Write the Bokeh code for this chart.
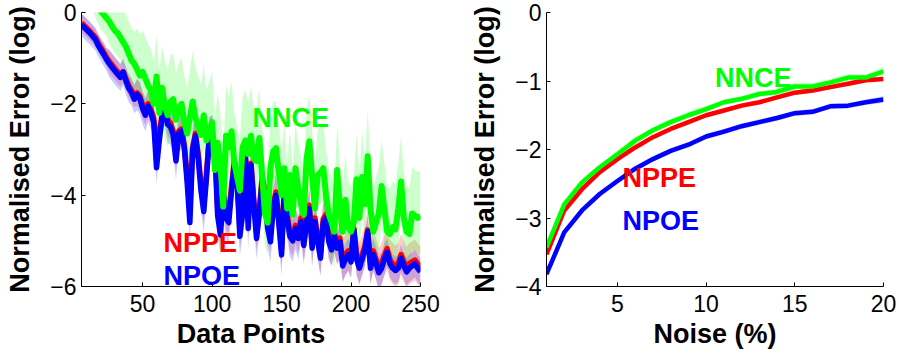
from bokeh.plotting import figure
from bokeh.layouts import row
from bokeh.models import Label, FixedTicker
from bokeh.embed import file_html
from bokeh.resources import INLINE

# ---------------- Left panel: error vs number of data points ----------------
dp_start = 6
dp_step = 2
npoe_dp = [
    -0.27, -0.33, -0.39, -0.45, -0.52, -0.59, -0.72, -0.82, -0.92, -1.03,
    -1.12, -1.2, -1.28, -1.35, -1.42, -1.3, -1.5, -1.66, -1.75, -1.9,
    -1.8, -1.88, -2.1, -2.25, -2.05, -2.2, -2.4, -3.4, -2.8, -2.3,
    -2.05, -2.45, -2.5, -2.68, -3.25, -2.65, -2.6, -2.97, -3.7, -4.6,
    -3.0, -2.7, -3.2, -3.9, -4.36, -3.6, -2.75, -2.7, -3.0, -4.45,
    -4.87, -4.0, -4.5, -4.6, -3.9, -3.33, -3.7, -4.9, -4.4, -3.2,
    -4.73, -3.34, -4.2, -4.95, -4.4, -3.7, -4.0, -4.73, -5.02, -4.3,
    -4.0, -4.6, -5.31, -3.9, -4.5, -4.9, -5.0, -4.73, -4.95, -4.58,
    -5.1, -4.6, -4.3, -5.16, -4.58, -5.0, -5.38, -4.6, -4.5, -5.02,
    -5.2, -4.9, -5.16, -5.02, -5.55, -5.4, -5.3, -5.46, -4.75, -5.4,
    -5.6, -5.4, -5.2, -4.8, -5.6, -5.3, -5.5, -5.7, -5.6, -5.4,
    -5.25, -5.5, -5.6, -5.65, -5.6, -5.38, -5.55, -5.68, -5.6, -5.55,
    -5.5, -5.6, -5.68,
]
nppe_dp = [
    -0.23, -0.29, -0.35, -0.41, -0.48, -0.55, -0.67, -0.77, -0.87, -0.98,
    -1.07, -1.15, -1.23, -1.3, -1.37, -1.3, -1.45, -1.6, -1.7, -1.82,
    -1.76, -1.83, -2.02, -2.15, -2.0, -2.12, -2.3, -3.1, -2.6, -2.25,
    -2.05, -2.35, -2.42, -2.6, -3.1, -2.6, -2.55, -2.9, -3.55, -4.3,
    -2.95, -2.65, -3.1, -3.75, -4.2, -3.5, -2.7, -2.65, -2.95, -4.3,
    -4.7, -3.9, -4.35, -4.45, -3.8, -3.25, -3.6, -4.75, -4.3, -3.1,
    -4.55, -3.3, -4.1, -4.8, -4.3, -3.6, -3.9, -4.6, -4.85, -4.2,
    -3.93, -4.52, -5.2, -3.83, -4.42, -4.82, -4.92, -4.66, -4.87, -4.5,
    -5.0, -4.52, -4.22, -5.06, -4.5, -4.92, -5.28, -4.52, -4.42, -4.93,
    -5.1, -4.82, -5.07, -4.94, -5.44, -5.3, -5.22, -5.36, -4.72, -5.3,
    -5.5, -5.31, -5.12, -4.76, -5.5, -5.22, -5.41, -5.6, -5.5, -5.32,
    -5.17, -5.41, -5.5, -5.55, -5.5, -5.3, -5.46, -5.58, -5.5, -5.46,
    -5.42, -5.5, -5.58,
]
nnce_dp = [
    0.9, 0.8, 0.7, 0.55, 0.45, 0.3, 0.15, 0.02, -0.05, -0.12,
    -0.2, -0.3, -0.4, -0.45, -0.55, -0.65, -0.75, -0.9, -1.05, -1.12,
    -1.25, -1.38, -1.3, -1.45, -1.6, -1.7, -2.0, -1.4, -2.2, -1.65,
    -2.05, -2.25, -1.95, -1.9, -2.35, -2.1, -2.0, -2.4, -2.65, -2.3,
    -1.95, -2.3, -2.5, -2.68, -2.25, -2.8, -2.6, -2.4, -3.45, -2.85,
    -3.3, -4.25, -2.7, -2.95, -2.6, -3.3, -3.6, -3.9, -2.95, -2.8,
    -3.1, -2.7, -3.2, -3.25, -2.75, -3.56, -4.4, -4.6, -3.4, -3.04,
    -2.97, -3.5, -4.0, -3.41, -4.29, -3.56, -4.43, -3.41, -3.85, -4.2,
    -4.43, -3.19, -2.82, -3.6, -4.29, -3.56, -3.5, -3.41, -4.0, -4.43,
    -4.6, -4.8, -3.45, -4.3, -4.8, -4.1, -4.7, -4.8, -4.6, -3.65,
    -4.5, -3.6, -4.2, -3.15, -4.3, -4.8, -4.6, -4.4, -3.8, -4.3,
    -4.8, -4.85, -4.7, -4.75, -4.3, -3.7, -4.5, -4.8, -4.85, -4.4,
    -4.45, -4.5, -4.45,
]
# half-widths of the shaded spread, one value per block of 20 data points
block = 20
nnce_dp_up = [0.5, 0.7, 0.9, 1.0, 1.1, 1.1, 1.1, 1.0, 1.0, 1.0, 1.0, 1.0, 1.0]
nnce_dp_dn = [0.4, 0.5, 0.6, 0.7, 0.7, 0.7, 0.7, 0.7, 0.7, 0.8, 0.8, 0.8, 0.8]
nppe_dp_sd = [0.2, 0.25, 0.3, 0.35, 0.4, 0.4, 0.4, 0.4, 0.45, 0.45, 0.45, 0.45, 0.45]
npoe_dp_sd = [0.25, 0.3, 0.35, 0.4, 0.45, 0.45, 0.45, 0.45, 0.4, 0.35, 0.35, 0.3, 0.3]

dp_xticks = [50, 100, 150, 200, 250]
dp_yticks = [-6, -4, -2, 0]

# ---------------- Right panel: error vs noise ----------------
noise_pct = [1, 2, 3, 4, 5, 6, 7, 8, 9, 10, 11, 12, 13, 14, 15, 16, 17, 18, 19, 20]
nnce_noise = [-3.43, -2.80, -2.48, -2.26, -2.07, -1.87, -1.72, -1.60, -1.50, -1.41,
              -1.31, -1.26, -1.19, -1.16, -1.08, -1.08, -1.02, -0.95, -0.95, -0.86]
nppe_noise = [-3.53, -2.89, -2.58, -2.33, -2.14, -1.97, -1.82, -1.70, -1.60, -1.50,
              -1.43, -1.36, -1.31, -1.24, -1.17, -1.14, -1.09, -1.04, -0.99, -0.97]
npoe_noise = [-3.82, -3.21, -2.89, -2.65, -2.46, -2.28, -2.14, -2.02, -1.93, -1.81,
              -1.74, -1.66, -1.60, -1.54, -1.47, -1.45, -1.37, -1.36, -1.31, -1.27]
nnce_noise_sd = [0.05, 0.04, 0.04, 0.04, 0.05, 0.06, 0.05, 0.05, 0.05, 0.05,
                 0.04, 0.04, 0.04, 0.05, 0.06, 0.05, 0.05, 0.05, 0.05, 0.07]
nppe_noise_sd = [0.03, 0.03, 0.03, 0.03, 0.03, 0.03, 0.03, 0.03, 0.03, 0.03,
                 0.03, 0.03, 0.03, 0.03, 0.03, 0.03, 0.03, 0.03, 0.03, 0.03]
npoe_noise_sd = [0.05, 0.04, 0.04, 0.04, 0.04, 0.04, 0.04, 0.04, 0.04, 0.04,
                 0.04, 0.04, 0.04, 0.04, 0.04, 0.04, 0.04, 0.04, 0.04, 0.05]
noise_xticks = [5, 10, 15, 20]
noise_yticks = [-4, -3, -2, -1, 0]

GREEN = "#00ff00"
RED = "#ff0000"
BLUE = "#0000ff"
FONT = "Liberation Sans"


def minus(v):
    return ("\u2212" + str(abs(v))) if v < 0 else str(v)


def style(p, xticks, yticks):
    p.outline_line_color = None
    p.grid.visible = False
    p.xaxis.ticker = FixedTicker(ticks=xticks)
    p.yaxis.ticker = FixedTicker(ticks=yticks)
    p.yaxis.major_label_overrides = {v: minus(v) for v in yticks}
    for ax in (p.xaxis[0], p.yaxis[0]):
        ax.major_tick_in = 4
        ax.major_tick_out = 0
        ax.minor_tick_line_color = None
        ax.axis_line_color = "black"
        ax.major_tick_line_color = "black"
        ax.major_label_text_font = FONT
        ax.major_label_text_font_size = "23px"
        ax.major_label_text_color = "black"
        ax.axis_label_text_font = FONT
        ax.axis_label_text_font_style = "bold"
        ax.axis_label_text_font_size = "27px"
        ax.axis_label_text_color = "black"
    p.xaxis.major_label_standoff = 8
    p.yaxis.major_label_standoff = 5
    p.xaxis.axis_label_standoff = 4
    p.yaxis.axis_label_standoff = 12


def add_label(p, x, y, text, color):
    p.add_layout(Label(x=x, y=y, text=text, text_color=color, text_font=FONT,
                       text_font_style="bold", text_font_size="27px",
                       text_baseline="alphabetic", text_align="left"))


FIG_H = 354
BOTTOM = 68

# ---- left figure
dp_x = [dp_start + dp_step * i for i in range(len(npoe_dp))]
blk = [(x - dp_start) // block for x in dp_x]

p1 = figure(width=460, height=FIG_H, x_range=(6, 250), y_range=(-6, 0),
            output_backend="svg", toolbar_location=None,
            min_border_left=81, min_border_right=40, min_border_top=12, min_border_bottom=BOTTOM,
            background_fill_color="white", border_fill_color="white")
p1.xaxis.axis_label = "Data Points"
p1.yaxis.axis_label = "Normalised Error (log)"
style(p1, dp_xticks, dp_yticks)

p1.varea(x=dp_x, y1=[m - nppe_dp_sd[b] for m, b in zip(nppe_dp, blk)],
         y2=[m + nppe_dp_sd[b] for m, b in zip(nppe_dp, blk)], fill_color=RED, fill_alpha=0.2)
p1.varea(x=dp_x, y1=[m - npoe_dp_sd[b] for m, b in zip(npoe_dp, blk)],
         y2=[m + npoe_dp_sd[b] for m, b in zip(npoe_dp, blk)], fill_color=BLUE, fill_alpha=0.2)
p1.varea(x=dp_x, y1=[m - nnce_dp_dn[b] for m, b in zip(nnce_dp, blk)],
         y2=[m + nnce_dp_up[b] for m, b in zip(nnce_dp, blk)], fill_color=GREEN, fill_alpha=0.2)
p1.line(dp_x, nppe_dp, line_color=RED, line_width=5.5, line_join="round")
p1.line(dp_x, npoe_dp, line_color=BLUE, line_width=5.5, line_join="round")
p1.line(dp_x, nnce_dp, line_color=GREEN, line_width=6, line_join="round")

add_label(p1, 129.1, -2.32, "NNCE", GREEN)
add_label(p1, 65, -5.04, "NPPE", RED)
add_label(p1, 65, -5.78, "NPOE", BLUE)

# ---- right figure
p2 = figure(width=439, height=FIG_H, x_range=(1, 20), y_range=(-4, 0),
            output_backend="svg", toolbar_location=None,
            min_border_left=86, min_border_right=16, min_border_top=12, min_border_bottom=BOTTOM,
            background_fill_color="white", border_fill_color="white")
p2.xaxis.axis_label = "Noise (%)"
p2.yaxis.axis_label = "Normalised Error (log)"
style(p2, noise_xticks, noise_yticks)

for mean, sd, col in ((nppe_noise, nppe_noise_sd, RED), (npoe_noise, npoe_noise_sd, BLUE),
                      (nnce_noise, nnce_noise_sd, GREEN)):
    p2.varea(x=noise_pct, y1=[m - s for m, s in zip(mean, sd)],
             y2=[m + s for m, s in zip(mean, sd)], fill_color=col, fill_alpha=0.2)
p2.line(noise_pct, nppe_noise, line_color=RED, line_width=4.5, line_join="round")
p2.line(noise_pct, npoe_noise, line_color=BLUE, line_width=4.5, line_join="round")
p2.line(noise_pct, nnce_noise, line_color=GREEN, line_width=4.5, line_join="round")

add_label(p2, 10.5, -0.956, "NNCE", GREEN)
add_label(p2, 5.29, -2.41, "NPPE", RED)
add_label(p2, 5.29, -3.04, "NPOE", BLUE)

layout = row(p1, p2)

open("out.html", "w").write(file_html(layout, INLINE))
